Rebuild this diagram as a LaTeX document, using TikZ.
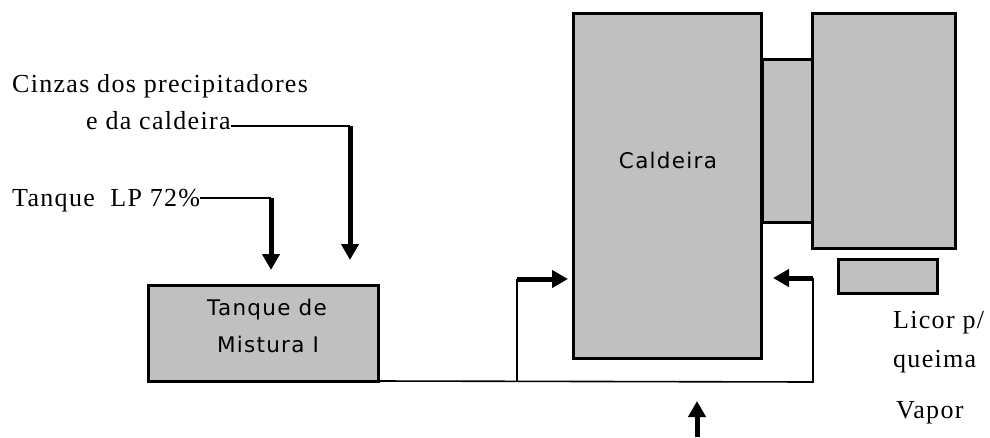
\documentclass[tikz,border=0pt]{standalone}
\usepackage{fontspec}
\setmainfont[LetterSpace=5]{Liberation Serif}
\newfontfamily\boxfont[LetterSpace=6]{DejaVu Sans}
\usetikzlibrary{arrows.meta}
\tikzset{
  unit/.style={fill={rgb,255:red,192;green,192;blue,192}, draw=black, line width=3pt, inner sep=0pt, outer sep=0pt},
  flow/.style={line width=1.6pt},
  feed/.style={line width=5pt, -{Triangle[length=16pt,width=17pt]}},
  lbl/.style={font=\fontsize{26}{30}\selectfont, inner sep=0pt, anchor=base west},
  boxlbl/.style={font=\boxfont\fontsize{21.5}{37}\selectfont, inner sep=0pt, anchor=base, align=center}
}
\begin{document}
\begin{tikzpicture}[x=1pt,y=-1pt]
\useasboundingbox (0,0) rectangle (990,437);
% units
\node[unit, minimum width=230pt, minimum height=96pt] (tank) at (263,333) {};
\node[boxlbl] (tanktxt) at (267,315) {Tanque de};
\node[boxlbl] (tanktxt2) at (268,352) {Mistura I};
\node[unit, minimum width=188pt, minimum height=345pt] (boiler) at (667.5,185.5) {};
\node[boxlbl] (boilertxt) at (668,168) {Caldeira};
\node[unit, minimum width=50pt, minimum height=163pt] (duct) at (787,141) {};
\node[unit, minimum width=143pt, minimum height=235pt] (prec) at (883.5,130.5) {};
\node[unit, minimum width=99pt, minimum height=34pt] (small) at (887.5,276) {};
% labels
\node[lbl] (ash1) at (12,92) {Cinzas dos precipitadores};
\node[lbl] (ash2) at (86,129) {e da caldeira};
\node[lbl] (lp) at (12,206) {Tanque\ \ LP 72\%};
\node[lbl] (licor1) at (893,328) {Licor p/};
\node[lbl] (licor2) at (893,367) {queima};
\node[lbl] (vapor) at (896,418) {Vapor};
% coordinates
\coordinate (ashc) at (350,126);
\coordinate (asht) at (350,260);
\coordinate (lpc) at (271,198);
\coordinate (lpt) at (271,270);
\coordinate (bot) at (813,382);
\coordinate (brR) at (813,278);
\coordinate (tipR) at (773,278);
\coordinate (brL) at (517,382);
\coordinate (brLt) at (517,279);
\coordinate (tipL) at (568,279);
\coordinate (vap0) at (697,437);
\coordinate (vap1) at (697,401);
% connectors
\draw[flow] (ash2.east |- ashc) -- (ashc);
\draw[feed] (ashc) -- (asht);
\draw[flow] (lp.east |- lpc) -- (lpc);
\draw[feed] (lpc) -- (lpt);
\draw[flow] (tank.south east) -- (bot) -- (brR);
\draw[feed] (brR) -- (tipR);
\draw[flow] (brL) -- (brLt);
\draw[feed] (brLt) -- (tipL);
\draw[feed] (vap0) -- (vap1);
\end{tikzpicture}
\end{document}
